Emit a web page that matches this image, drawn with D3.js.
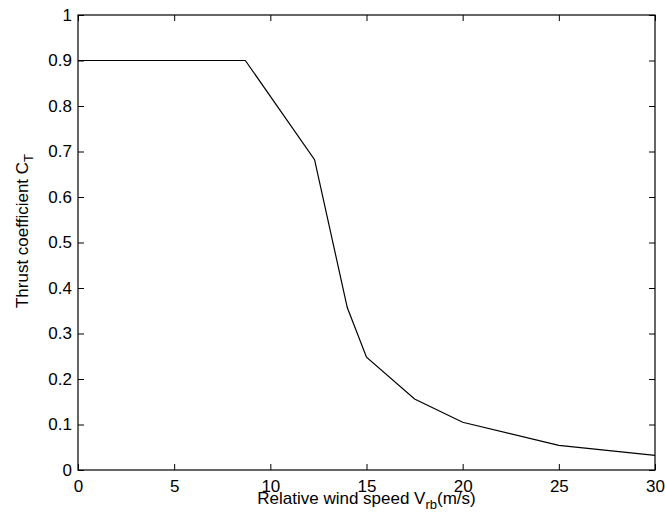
<!DOCTYPE html>
<html><head><meta charset="utf-8">
<script src="https://cdn.jsdelivr.net/npm/d3@7"></script>
<style>body{margin:0;background:#fff}svg{display:block}text{font-family:"Liberation Sans",Arial,Helvetica,sans-serif;}</style>
</head><body>
<svg id="c" width="665" height="521"></svg>
<script>
const windSpeed = [0, 8.7, 12.3, 14.0, 15.0, 17.5, 20.0, 25.0, 30.0];
const thrustCoef = [0.9, 0.9, 0.682, 0.357, 0.248, 0.156, 0.105, 0.054, 0.032];
const xTicks = [0, 5, 10, 15, 20, 25, 30];
const yTicks = [0, 0.1, 0.2, 0.3, 0.4, 0.5, 0.6, 0.7, 0.8, 0.9, 1];

const svg = d3.select("#c");
const L = 78, R = 655, T = 15, B = 470;
const x = d3.scaleLinear().domain([0, 30]).range([L, R]);
const y = d3.scaleLinear().domain([0, 1]).range([B, T]);
const tk = 6;
const FS = 17;

// data line
svg.append("path")
  .datum(windSpeed.map((v, i) => [v, thrustCoef[i]]))
  .attr("fill", "none").attr("stroke", "#000").attr("stroke-width", 1.2)
  .attr("d", d3.line().x(d => x(d[0])).y(d => y(d[1])));

const fmt = d => d === 0 ? "0" : d === 1 ? "1" : d3.format(".1f")(d);

// axes
const gx = svg.append("g").attr("transform", `translate(0,${B})`)
  .call(d3.axisBottom(x).tickValues(xTicks).tickSize(-tk).tickPadding(0).tickFormat(d3.format("d")));
const gxt = svg.append("g").attr("transform", `translate(0,${T})`)
  .call(d3.axisTop(x).tickValues(xTicks).tickSize(-tk).tickFormat(""));
const gy = svg.append("g").attr("transform", `translate(${L},0)`)
  .call(d3.axisLeft(y).tickValues(yTicks).tickSize(-tk).tickPadding(6).tickFormat(fmt));
const gyr = svg.append("g").attr("transform", `translate(${R},0)`)
  .call(d3.axisRight(y).tickValues(yTicks).tickSize(-tk).tickFormat(""));

[gx, gxt, gy, gyr].forEach(g => {
  g.select(".domain").remove();
  g.selectAll(".tick line").attr("stroke", "#000").attr("stroke-width", 1);
  g.selectAll("text").attr("font-size", FS).attr("fill", "#000")
    .attr("font-family", '"Liberation Sans",Arial,Helvetica,sans-serif');
});
gx.selectAll("text").attr("y", 21.7).attr("dy", null);

// box
svg.append("rect").attr("x", L).attr("y", T).attr("width", R - L).attr("height", B - T)
  .attr("fill", "none").attr("stroke", "#000").attr("stroke-width", 1.2);

// x label
const xl = svg.append("text").attr("x", (L + R) / 2).attr("y", 504)
  .attr("text-anchor", "middle").attr("font-size", FS).attr("fill", "#000");
xl.append("tspan").text("Relative wind speed V");
xl.append("tspan").attr("font-size", 13).attr("dy", 5).text("rb");
xl.append("tspan").attr("dy", -5).text("(m/s)");

// y label
const yl = svg.append("text").attr("transform", `translate(28,231) rotate(-90)`)
  .attr("text-anchor", "middle").attr("font-size", FS).attr("fill", "#000");
yl.append("tspan").text("Thrust coefficient C");
yl.append("tspan").attr("font-size", 13).attr("dy", 5).text("T");
</script>
</body></html>
